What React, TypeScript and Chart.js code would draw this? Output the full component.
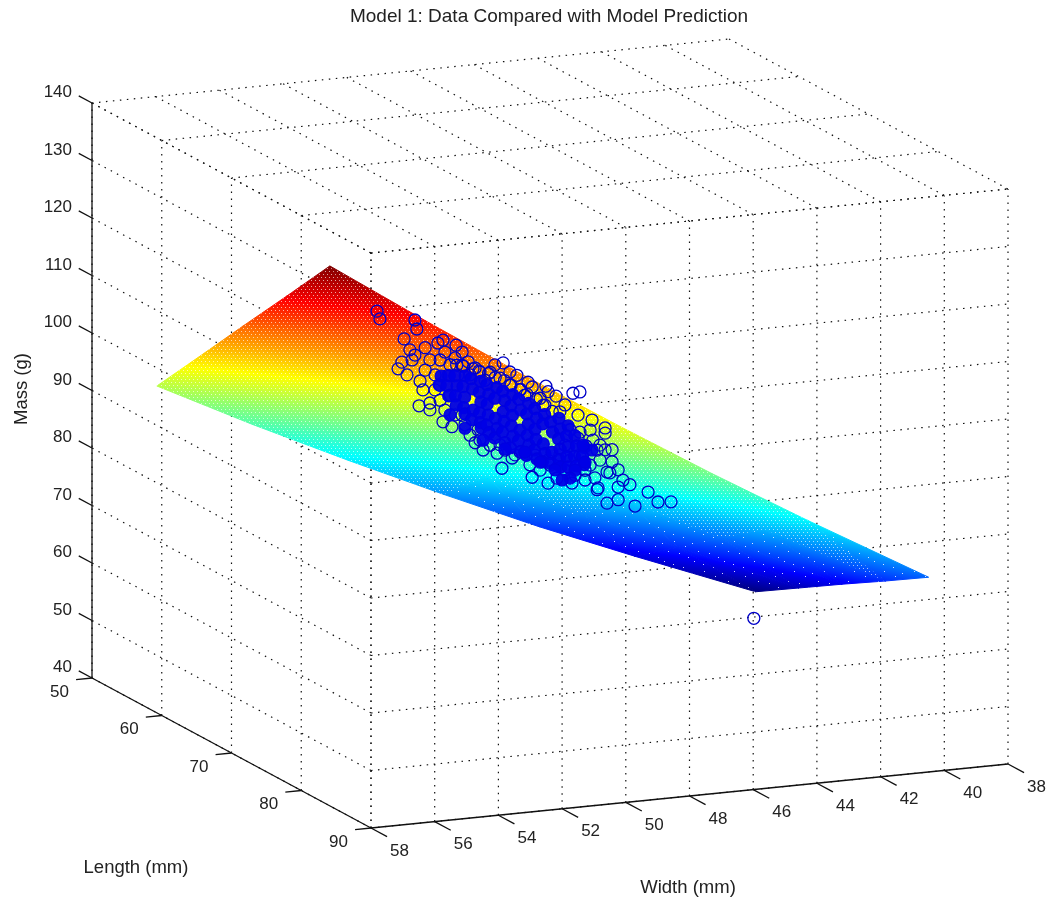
import React, { useEffect, useRef } from "react";
import { Chart, registerables } from "chart.js";

Chart.register(...registerables);

const chartTitle = "Model 1: Data Compared with Model Prediction";
const lengthTicks = [50, 60, 70, 80, 90];
const widthTicks = [58, 56, 54, 52, 50, 48, 46, 44, 42, 40, 38];
const massTicks = [40, 50, 60, 70, 80, 90, 100, 110, 120, 130, 140];

// Model surface: masses (g) at these nodes.
const surfaceLengths = [59.3, 65.5, 71.7, 77.9, 84.1];
const surfaceWidths = [58, 55, 52, 49, 46, 43, 39.2];
const surfaceMasses = [
  [96.85, 106.1, 115.4, 124.6, 133.9],
  [88.5, 97.0, 105.6, 114.1, 122.7],
  [80.6, 88.4, 96.2, 104.0, 111.8],
  [73.0, 80.1, 87.2, 94.2, 101.3],
  [65.7, 72.0, 78.4, 84.7, 91.1],
  [58.9, 64.5, 70.1, 75.7, 81.3],
  [50.6, 55.3, 60.0, 64.6, 69.3],
];

// Measured specimens [length, width, mass], estimated by eye. A 2D picture cannot
// give depth, so length is nominal; circles in the solid core are not individually
// readable, so that core is an approximation of its extent and is drawn as filled marks.
const outerSpecimens = [
  [70,53.43,114.3],[70,53.34,112.9],[70,52.24,112.1],[70,52.18,110.5],[70,52.58,109],[70,51.36,108.1],[70,51.52,107.7],[70,50.95,107],
  [70,52.77,103.9],[70,52.49,102.7],[70,52.08,101.4],[70,51.99,99.8],[70,52.11,97.1],[70,51.77,97.4],[70,51.77,96.2],[70,49.47,103.1],
  [70,49.04,100.7],[70,48.56,98.4],[70,48.13,98.3],[70,47.28,96.6],[70,47.06,96.7],[70,47.81,96.4],[70,47.69,93.6],[70,46.27,90],
  [70,46.27,89.1],[70,51.36,93.9],[70,51.08,92.9],[70,50.35,89.7],[70,50.1,88.3],[70,49.66,87.5],[70,49.51,84.8],[70,49.19,86.4],
  [70,48.56,82.7],[70,48.06,81.4],[70,47.78,82.1],[70,47.31,81],[70,46.52,79.4],[70,46.21,82.3],[70,46.12,82.1],[70,45.71,80.6],
  [70,45.86,77.3],[70,46.21,76.9],[70,45.33,75.9],[70,44.92,78.1],[70,44.61,76.2],[70,44.2,76],[70,45.49,79.7],[70,45.86,79.5],
  [70,46.49,79.7],[70,47.06,89.7],[70,46.65,88.1],[70,46.52,86.3],[70,41.6,54.3],
  [70,52.4,107],[70,52.33,105.2],[70,52.65,105],[70,52.24,106],[70,51.92,107.1],[70,51.77,104.9],[70,51.92,103.2],[70,51.61,102.2],
  [70,51.45,104.7],[70,51.3,106],[70,51.14,103.7],[70,50.98,104.8],[70,50.76,105.7],[70,50.57,103.9],[70,50.35,102.7],[70,50.89,101.8],
  [70,50.51,101.6],[70,50.2,101.9],[70,50.04,100.4],[70,49.88,101.7],[70,49.57,100.5],[70,49.26,99.1],[70,48.94,98.1],[70,48.79,97.1],
  [70,48.31,96.3],[70,48.16,95],[70,51.61,99.6],[70,51.45,97.7],[70,51.3,95.9],[70,50.98,94.9],[70,50.67,93],[70,50.51,91.1],
  [70,50.2,90.1],[70,49.88,89],[70,49.41,87.9],[70,48.94,87.3],[70,48.63,84.9],[70,48.31,83.8],[70,48,84.5],[70,47.53,83.4],
  [70,47.21,82.3],[70,46.9,83],[70,46.74,83.8],[70,46.43,84.5],[70,46.59,81.5],[70,46.9,81.3],[70,46.05,84],[70,45.86,82.5],
  [70,46.27,86.2],[70,47.37,85],
  [70,47.37,90.3],[70,47.12,88.7],[70,46.87,87.2],[70,47.53,87.7],[70,47.06,85.7],[70,46.74,89.9],[70,47.69,86.1],[70,48.06,85.4],
  [70,48.47,86.5],[70,49.1,86.9],[70,49.57,88.9],[70,50.26,91.9],[70,50.76,94.7],[70,51.14,98.4],[70,51.45,100.3],[70,51.2,101.9],
  [70,50.76,103.4],[70,49.73,102.9],[70,49.26,101.4],[70,48.69,99.3],[70,48.06,97.3],[70,47.53,94.7],[70,47.12,92.7],[70,46.68,91.6],
  [70,46.43,87.1],[70,46.05,86.1],
  [70,50.42,102.6],[70,50.23,102.1],[70,49.93,101.5],[70,49.72,100.7],[70,49.43,100],[70,49.22,99.1],[70,48.93,98.2],[70,48.72,97.2],
  [70,48.43,96.2],[70,48.22,95],[70,47.93,93.8],[70,50.72,103.2],[70,50.93,103.5],
];
const coreSpecimens = [
  [70,51.42,101.9],[70,51.48,100.4],
  [70,51.16,101.8],[70,51.24,100.1],[70,51.18,98.3],
  [70,50.99,101.7],[70,50.92,99.9],[70,50.97,98.2],[70,50.94,96.6],
  [70,50.66,101.5],[70,50.73,99.7],[70,50.68,97.8],[70,50.71,96],[70,50.67,94.9],
  [70,50.48,100.9],[70,50.43,99.1],[70,50.41,95.4],[70,50.46,93.8],
  [70,50.18,100.3],[70,50.22,98.4],[70,50.17,96.7],[70,50.21,94.8],[70,50.19,93.1],[70,50.16,92.2],
  [70,49.98,99.6],[70,49.92,97.9],[70,49.97,96.2],[70,49.94,94.3],[70,49.99,92.6],[70,49.91,91.2],
  [70,49.67,98.9],[70,49.73,97.1],[70,49.71,93.6],[70,49.66,91.8],[70,49.74,90.2],
  [70,49.48,98.2],[70,49.42,96.5],[70,49.47,94.6],[70,49.44,92.9],[70,49.49,91.1],[70,49.41,89.2],
  [70,49.17,97.4],[70,49.23,95.5],[70,49.18,93.8],[70,49.21,92],[70,49.16,90.2],[70,49.24,88.2],
  [70,48.98,96.5],[70,48.92,94.6],[70,48.94,91.1],[70,48.99,89.3],[70,48.91,87.4],
  [70,48.67,95.6],[70,48.73,93.8],[70,48.68,92],[70,48.71,90.1],[70,48.66,88.4],[70,48.74,86.6],
  [70,48.48,94.6],[70,48.42,92.9],[70,48.47,91],[70,48.44,89.2],[70,48.49,87.4],[70,48.41,85.8],
  [70,48.17,93.4],[70,48.23,91.8],[70,48.21,88.3],[70,48.16,86.6],[70,48.24,85.2],
  [70,47.98,92],[70,47.92,90.2],[70,47.94,86.7],[70,47.99,84.8],
  [70,47.72,92.5],[70,47.67,90.6],[70,47.73,88.9],[70,47.68,87.1],[70,47.71,85.3],[70,47.66,84],
  [70,47.43,91],[70,47.48,89.3],[70,47.42,87.4],[70,47.47,85.7],[70,47.44,83.9],
  [70,47.22,89.2],[70,47.17,87.4],[70,47.23,85.6],[70,47.18,83.9],
  [70,46.93,87],[70,46.98,85.5],[70,46.92,84],
  [70,47.21,83.2],[70,46.9,84.4],[70,47.37,81.9],[70,46.68,86.4],[70,47.84,83.6],[70,48.31,85.2],[70,46.96,87.4],[70,47.62,81.7],
  [70,48.79,87.2],[70,49.41,88.1],[70,50.1,90],[70,50.67,92.4],[70,51.14,95],
];

const FONT = '"Liberation Sans", Arial, sans-serif';
const CANVAS_W = 1052;
const CANVAS_H = 903;
const TITLE_SIZE = 19;
const TITLE_PAD_TOP = 5;
const TITLE_PAD_BOTTOM = 2;
const PAD_LEFT = 46;
const AREA_TOP = TITLE_PAD_TOP + TITLE_SIZE * 1.2 + TITLE_PAD_BOTTOM;

// Orthographic view of (length, width, mass) used by the MATLAB axes.
const project = (L: number, W: number, M: number) => ({
  x: 92 + (L - 50) * 6.975 + (58 - W) * 31.85,
  y: 678 + (L - 50) * 3.75 - (58 - W) * 3.2 - (M - 40) * 5.75,
});

const clamp01 = (v: number) => Math.min(1, Math.max(0, v));
const jet = (t: number) => {
  const r = clamp01(1.5 - Math.abs(4 * t - 3));
  const g = clamp01(1.5 - Math.abs(4 * t - 2));
  const b = clamp01(1.5 - Math.abs(4 * t - 1));
  return `rgb(${Math.round(r * 255)},${Math.round(g * 255)},${Math.round(b * 255)})`;
};

const makeTile = (w: number, h: number, dots: number[][], alpha: number) => {
  const c = document.createElement("canvas");
  c.width = w;
  c.height = h;
  const x = c.getContext("2d")!;
  x.fillStyle = `rgba(255,255,255,${alpha})`;
  dots.forEach(([a, b]) => x.fillRect(a, b, 1, 1));
  return x;
};

export default function App() {
  const ref = useRef<HTMLCanvasElement>(null);

  useEffect(() => {
    const canvas = ref.current!;
    const ctx = canvas.getContext("2d")!;
    const flat = surfaceMasses.flat();
    const mMin = Math.min(...flat);
    const mMax = Math.max(...flat);
    const toT = (m: number) => (m - mMin) / (mMax - mMin);

    const denseTile = makeTile(8, 6, [[1, 1], [5, 1], [3, 4], [7, 4]], 0.65);
    const sparseTile = makeTile(30, 30, [[2, 3], [14, 1], [25, 6], [8, 11], [19, 13], [28, 17], [4, 21], [13, 24], [23, 27]], 0.85);
    const densePattern = ctx.createPattern(denseTile.canvas, "repeat")!;
    const sparsePattern = ctx.createPattern(sparseTile.canvas, "repeat")!;

    const triGradient = (pts: { x: number; y: number; t: number }[]) => {
      const [a, b, c] = pts;
      const e1x = b.x - a.x, e1y = b.y - a.y, e2x = c.x - a.x, e2y = c.y - a.y;
      const d1 = b.t - a.t, d2 = c.t - a.t;
      const det = e1x * e2y - e1y * e2x;
      const gx = (d1 * e2y - d2 * e1y) / det;
      const gy = (d2 * e1x - d1 * e2x) / det;
      const n = gx * gx + gy * gy;
      const grad = ctx.createLinearGradient(
        a.x + (gx * (0 - a.t)) / n,
        a.y + (gy * (0 - a.t)) / n,
        a.x + (gx * (1 - a.t)) / n,
        a.y + (gy * (1 - a.t)) / n
      );
      for (let i = 0; i <= 32; i++) grad.addColorStop(i / 32, jet(i / 32));
      return grad;
    };

    const lineSet = (points: number[][], extra: object) => ({
      data: points.map(([L, W, M]) => project(L, W, M)),
      showLine: true,
      pointRadius: 0,
      tension: 0,
      fill: false,
      ...extra,
    });

    const gridStyle = { borderColor: "#111", borderWidth: 1.2, borderDash: [1.5, 5.5] };
    const axisStyle = { borderColor: "#111", borderWidth: 1.3 };

    const grid: any[] = [];
    lengthTicks.forEach((L) => {
      grid.push(lineSet([[L, 58, 140], [L, 38, 140]], gridStyle));
      grid.push(lineSet([[L, 58, 40], [L, 58, 140]], gridStyle));
    });
    widthTicks.forEach((W) => {
      grid.push(lineSet([[50, W, 140], [90, W, 140]], gridStyle));
      grid.push(lineSet([[90, W, 40], [90, W, 140]], gridStyle));
    });
    massTicks.forEach((M) => {
      grid.push(lineSet([[90, 58, M], [50, 58, M]], gridStyle));
      grid.push(lineSet([[90, 58, M], [90, 38, M]], gridStyle));
    });

    const axes: any[] = [
      lineSet([[50, 58, 40], [50, 58, 140]], axisStyle),
      lineSet([[50, 58, 40], [90, 58, 40]], axisStyle),
      lineSet([[90, 58, 40], [90, 38, 40]], axisStyle),
    ];
    massTicks.forEach((M) => axes.push(lineSet([[50, 58, M], [48.1, 58, M]], axisStyle)));
    lengthTicks.forEach((L) => axes.push(lineSet([[L, 58, 40], [L, 58.5, 40]], axisStyle)));
    widthTicks.forEach((W) => axes.push(lineSet([[90, W, 40], [92.3, W, 40]], axisStyle)));

    const surface: any[] = [];
    const texture: any[] = [];
    const addTriangle = (nodes: number[][]) => {
      const pts = nodes.map(([i, j]) => {
        const m = surfaceMasses[i][j];
        return { ...project(surfaceLengths[j], surfaceWidths[i], m), t: toT(m) };
      });
      const data = [...pts, pts[0]].map(({ x, y }) => ({ x, y }));
      const g = triGradient(pts);
      surface.push({
        data,
        showLine: true,
        pointRadius: 0,
        tension: 0,
        fill: "shape",
        backgroundColor: g,
        borderColor: g,
        borderWidth: 1,
      });
      const avg = (pts[0].t + pts[1].t + pts[2].t) / 3;
      texture.push({
        data,
        showLine: true,
        pointRadius: 0,
        tension: 0,
        fill: "shape",
        backgroundColor: avg > 0.27 ? densePattern : sparsePattern,
        borderWidth: 0,
        borderColor: "rgba(0,0,0,0)",
      });
    };
    for (let i = 0; i < surfaceWidths.length - 1; i++) {
      for (let j = 0; j < surfaceLengths.length - 1; j++) {
        addTriangle([[i, j], [i + 1, j], [i, j + 1]]);
        addTriangle([[i + 1, j], [i + 1, j + 1], [i, j + 1]]);
      }
    }

    const toPoints = (rows: number[][]) => rows.map(([L, W, M]) => project(L, W, M));
    const scatterSets = [
      {
        data: toPoints(coreSpecimens),
        showLine: false,
        pointRadius: 6,
        pointBorderWidth: 1.2,
        pointBorderColor: "#0000e0",
        pointBackgroundColor: "rgba(0,0,230,0.95)",
      },
      {
        data: toPoints(outerSpecimens),
        showLine: false,
        pointRadius: 6,
        pointBorderWidth: 1.3,
        pointBorderColor: "#0000c8",
        pointBackgroundColor: "rgba(0,0,0,0)",
      },
    ];

    const textPlugin = {
      id: "axisText",
      afterDraw(chart: any) {
        const c = chart.ctx;
        const sx = chart.scales.x;
        const sy = chart.scales.y;
        const at = (L: number, W: number, M: number) => {
          const p = project(L, W, M);
          return { x: sx.getPixelForValue(p.x), y: sy.getPixelForValue(p.y) };
        };
        c.save();
        c.fillStyle = "#222";
        c.textBaseline = "middle";
        c.font = `17px ${FONT}`;
        c.textAlign = "right";
        massTicks.forEach((M) => {
          const p = at(50, 58, M);
          c.fillText(String(M), 72, p.y - 10.5);
        });
        c.textAlign = "center";
        lengthTicks.forEach((L) => {
          const p = at(L, 58, 40);
          c.fillText(String(L), p.x - 32.5, p.y + 14);
        });
        widthTicks.forEach((W) => {
          const p = at(90, W, 40);
          c.fillText(String(W), p.x + 28.5, p.y + 23);
        });
        c.font = `18.5px ${FONT}`;
        c.fillText("Length (mm)", 136, 868);
        c.fillText("Width (mm)", 688, 888);
        c.save();
        c.translate(22, 389);
        c.rotate(-Math.PI / 2);
        c.fillText("Mass (g)", 0, 0);
        c.restore();
        c.restore();
      },
    };

    const chart = new Chart(canvas, {
      type: "scatter",
      data: { datasets: [...scatterSets, ...texture, ...surface, ...axes, ...grid] as any },
      options: {
        animation: false,
        responsive: false,
        events: [],
        layout: { autoPadding: false, padding: { left: PAD_LEFT, right: 0, top: 0, bottom: 0 } },
        scales: {
          x: { type: "linear", display: false, min: PAD_LEFT, max: CANVAS_W },
          y: { type: "linear", display: false, reverse: true, min: AREA_TOP, max: CANVAS_H },
        },
        plugins: {
          legend: { display: false },
          tooltip: { enabled: false },
          title: {
            display: true,
            text: chartTitle,
            color: "#222",
            font: { family: FONT, size: TITLE_SIZE, weight: "normal" },
            padding: { top: TITLE_PAD_TOP, bottom: TITLE_PAD_BOTTOM },
          },
        },
      } as any,
      plugins: [textPlugin],
    });
    return () => chart.destroy();
  }, []);

  return (
    <div style={{ position: "absolute", left: 0, top: 0 }}>
      <canvas ref={ref} width={CANVAS_W} height={CANVAS_H} style={{ display: "block" }} />
    </div>
  );
}
